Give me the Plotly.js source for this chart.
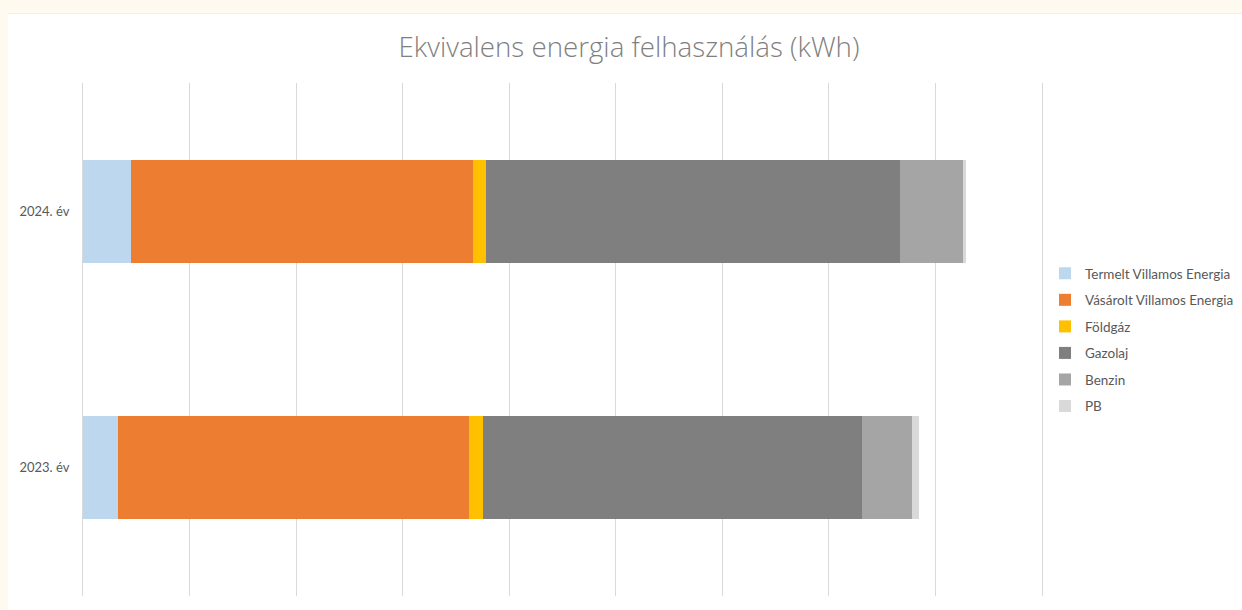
<!DOCTYPE html>
<html>
<head>
<meta charset="utf-8">
<script src="https://cdn.plot.ly/plotly-3.0.1.min.js"></script>
<style>
  html, body { margin: 0; padding: 0; background: #FFFAF0; width: 1242px; height: 610px; overflow: hidden; }
  #chart { position: absolute; left: 8px; top: 14px; width: 1234px; height: 596px; background: #ffffff; }
  #edge { position: absolute; left: 8px; top: 13px; width: 1234px; height: 1px; background: #F4F0E8; }
</style>
</head>
<body>
<div id="edge"></div>
<div id="chart"></div>
<script>
const categories = ['2023. év', '2024. év'];
const seriesNames = ['Termelt Villamos Energia', 'Vásárolt Villamos Energia', 'Földgáz', 'Gazolaj', 'Benzin', 'PB'];
const termelt  = [33000, 45000];
const vasarolt = [329000, 321000];
const foldgaz  = [13000, 12200];
const gazolaj  = [356000, 388600];
const benzin   = [47000, 59000];
const pb       = [6600, 2800];
const seriesValues = [termelt, vasarolt, foldgaz, gazolaj, benzin, pb];
const colors = ['#BDD7EE', '#ED7D31', '#FFC000', '#7F7F7F', '#A5A5A5', '#D9D9D9'];

const traces = seriesNames.map((name, i) => ({
  type: 'bar',
  orientation: 'h',
  name: name,
  y: categories,
  x: seriesValues[i],
  marker: { color: colors[i], line: { width: 0 } },
  legendgroup: 'g' + i,
  hoverinfo: 'x+name'
}));

const layout = {
  width: 1234,
  height: 596,
  paper_bgcolor: '#ffffff',
  plot_bgcolor: '#ffffff',
  margin: { l: 75, r: 200, t: 69, b: 14 },
  barmode: 'stack',
  bargap: 0.6,
  title: {
    text: 'Ekvivalens energia felhasználás (kWh)',
    font: { family: 'Open Sans, Lato, sans-serif', size: 27.7, color: '#7F7F7F', weight: 300 },
    x: 621 / 1234, xanchor: 'center', xref: 'container',
    y: 1 - (33 / 596), yanchor: 'middle', yref: 'container'
  },
  font: { family: 'Lato, Open Sans, sans-serif', size: 13, color: '#595959' },
  xaxis: {
    range: [0, 900000],
    dtick: 100000,
    showticklabels: false,
    showgrid: true,
    gridcolor: '#D9D9D9',
    gridwidth: 1,
    zeroline: false,
    showline: false,
    ticks: ''
  },
  yaxis: {
    type: 'category',
    showgrid: false,
    zeroline: false,
    showline: true,
    linecolor: '#D9D9D9',
    linewidth: 1,
    mirror: true,
    ticks: '',
    ticklabelstandoff: 10,
    tickfont: { family: 'Lato, Open Sans, sans-serif', size: 13, color: '#595959' }
  },
  legend: {
    xref: 'container', yref: 'container',
    x: 1037 / 1234, xanchor: 'left',
    y: 1 - 326 / 596, yanchor: 'middle',
    traceorder: 'grouped',
    tracegroupgap: 6,
    itemwidth: 30,
    font: { family: 'Lato, Open Sans, sans-serif', size: 13.5, color: '#595959' },
    bgcolor: 'rgba(0,0,0,0)'
  },
  showlegend: true
};

Plotly.newPlot('chart', traces, layout, { displayModeBar: false, staticPlot: true });
</script>
</body>
</html>
